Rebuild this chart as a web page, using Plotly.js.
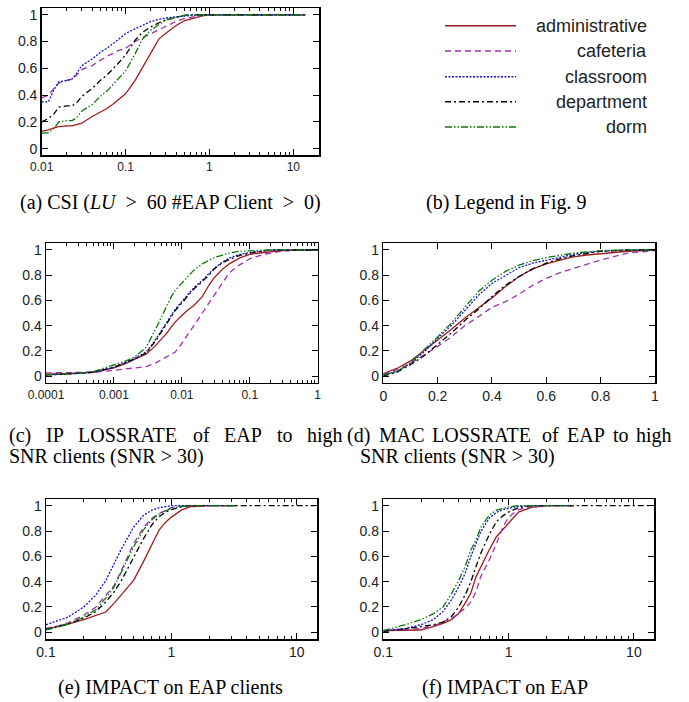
<!DOCTYPE html>
<html><head><meta charset="utf-8">
<script src="https://cdn.plot.ly/plotly-3.0.1.min.js"></script>
<style>html,body{margin:0;padding:0;background:#fff}#chart{width:689px;height:702px}</style>
</head><body><div id="chart"></div>
<script>
// ---------- DATA ----------
const categories = ['administrative', 'cafeteria', 'classroom', 'department', 'dorm'];

// (a) CSI
const csiX = [0.01, 0.012, 0.014, 0.016, 0.02, 0.023, 0.026, 0.03, 0.04, 0.05, 0.06, 0.07, 0.08, 0.1, 0.13, 0.16, 0.2, 0.25, 0.3, 0.4, 0.5, 0.6, 0.8, 1, 2, 5, 14];
const csiAdministrative = [0.13, 0.14, 0.155, 0.165, 0.17, 0.17, 0.18, 0.19, 0.24, 0.27, 0.30, 0.33, 0.36, 0.41, 0.51, 0.61, 0.71, 0.82, 0.86, 0.92, 0.955, 0.97, 0.99, 1, 1, 1, 1];
const csiCafeteria      = [0.38, 0.40, 0.45, 0.49, 0.51, 0.52, 0.55, 0.59, 0.62, 0.66, 0.69, 0.71, 0.73, 0.75, 0.80, 0.83, 0.86, 0.89, 0.915, 0.95, 0.97, 0.98, 0.995, 1, 1, 1, 1];
const csiClassroom      = [0.35, 0.35, 0.44, 0.50, 0.51, 0.52, 0.56, 0.62, 0.67, 0.72, 0.75, 0.78, 0.81, 0.86, 0.895, 0.92, 0.95, 0.965, 0.975, 0.985, 0.99, 0.995, 1, 1, 1, 1, 1];
const csiDepartment     = [0.20, 0.225, 0.26, 0.31, 0.32, 0.32, 0.34, 0.39, 0.45, 0.51, 0.55, 0.59, 0.63, 0.70, 0.81, 0.87, 0.91, 0.94, 0.96, 0.98, 0.995, 1, 1, 1, 1, 1, 1];
const csiDorm           = [0.115, 0.12, 0.15, 0.20, 0.21, 0.21, 0.23, 0.28, 0.33, 0.39, 0.43, 0.475, 0.52, 0.58, 0.71, 0.82, 0.885, 0.93, 0.96, 0.98, 0.995, 1, 1, 1, 1, 1, 1];

// (c) IP LOSSRATE
const ipX = [0.0001, 0.0002, 0.0005, 0.001, 0.0015, 0.002, 0.003, 0.004, 0.005, 0.006, 0.007, 0.008, 0.01, 0.012, 0.015, 0.02, 0.025, 0.03, 0.04, 0.05, 0.07, 0.1, 0.15, 0.2, 0.3, 0.5, 1];
const ipAdministrative = [0.015, 0.018, 0.03, 0.065, 0.10, 0.13, 0.175, 0.235, 0.29, 0.34, 0.39, 0.43, 0.48, 0.52, 0.56, 0.63, 0.72, 0.78, 0.85, 0.89, 0.935, 0.965, 0.978, 0.985, 0.995, 1, 1];
const ipCafeteria      = [0.025, 0.027, 0.03, 0.045, 0.055, 0.06, 0.075, 0.10, 0.13, 0.15, 0.17, 0.19, 0.26, 0.32, 0.40, 0.50, 0.58, 0.64, 0.75, 0.82, 0.88, 0.93, 0.96, 0.975, 0.99, 1, 1];
const ipClassroom      = [0.01, 0.015, 0.03, 0.07, 0.11, 0.14, 0.19, 0.28, 0.36, 0.43, 0.48, 0.53, 0.59, 0.64, 0.70, 0.76, 0.81, 0.855, 0.905, 0.935, 0.965, 0.98, 0.99, 1, 1, 1, 1];
const ipDepartment     = [0.01, 0.015, 0.03, 0.07, 0.105, 0.135, 0.185, 0.27, 0.35, 0.42, 0.47, 0.52, 0.58, 0.63, 0.69, 0.75, 0.80, 0.85, 0.90, 0.925, 0.955, 0.975, 0.99, 1, 1, 1, 1];
const ipDorm           = [0.01, 0.015, 0.035, 0.085, 0.12, 0.15, 0.23, 0.36, 0.47, 0.56, 0.63, 0.68, 0.735, 0.78, 0.84, 0.89, 0.92, 0.94, 0.96, 0.975, 0.99, 0.995, 1, 1, 1, 1, 1];

// (d) MAC LOSSRATE
const macX = [0, 0.05, 0.1, 0.15, 0.2, 0.25, 0.3, 0.35, 0.4, 0.45, 0.5, 0.55, 0.6, 0.65, 0.7, 0.75, 0.8, 0.9, 1];
const macAdministrative = [0.02, 0.06, 0.12, 0.20, 0.285, 0.37, 0.46, 0.54, 0.62, 0.71, 0.79, 0.85, 0.89, 0.92, 0.945, 0.96, 0.97, 0.99, 1];
const macCafeteria      = [0.015, 0.05, 0.10, 0.165, 0.235, 0.31, 0.40, 0.47, 0.545, 0.59, 0.65, 0.72, 0.775, 0.82, 0.855, 0.89, 0.92, 0.975, 0.995];
const macClassroom      = [0.01, 0.035, 0.10, 0.19, 0.30, 0.40, 0.52, 0.64, 0.735, 0.80, 0.86, 0.895, 0.92, 0.945, 0.965, 0.98, 0.99, 1, 1];
const macDepartment     = [0.0, 0.03, 0.09, 0.16, 0.25, 0.34, 0.44, 0.53, 0.63, 0.72, 0.79, 0.85, 0.895, 0.93, 0.955, 0.975, 0.99, 1, 1];
const macDorm           = [0.01, 0.035, 0.105, 0.205, 0.31, 0.42, 0.545, 0.67, 0.76, 0.83, 0.88, 0.915, 0.94, 0.96, 0.975, 0.985, 0.995, 1, 1];

// (e) IMPACT on EAP clients
const impClientX = [0.1, 0.125, 0.15, 0.2, 0.25, 0.3, 0.35, 0.4, 0.45, 0.5, 0.6, 0.7, 0.8, 0.9, 1, 1.2, 1.4, 2, 3.3, 14];
const impClientAdministrative = [0.025, 0.045, 0.065, 0.10, 0.13, 0.16, 0.23, 0.295, 0.35, 0.41, 0.56, 0.69, 0.81, 0.87, 0.91, 0.965, 0.99, 1, 1, null];
const impClientCafeteria      = [0.03, 0.05, 0.075, 0.135, 0.20, 0.295, 0.37, 0.49, 0.60, 0.70, 0.83, 0.90, 0.94, 0.965, 0.985, 0.995, 1, 1, 1, null];
const impClientClassroom      = [0.06, 0.09, 0.12, 0.20, 0.295, 0.41, 0.545, 0.66, 0.75, 0.83, 0.925, 0.965, 0.985, 0.995, 1, 1, 1, 1, 1, null];
const impClientDepartment     = [0.025, 0.045, 0.065, 0.11, 0.165, 0.24, 0.32, 0.41, 0.505, 0.60, 0.74, 0.85, 0.915, 0.95, 0.97, 0.99, 1, 1, 1, 1];
const impClientDorm           = [0.02, 0.04, 0.065, 0.12, 0.18, 0.27, 0.36, 0.48, 0.585, 0.675, 0.81, 0.89, 0.935, 0.96, 0.98, 0.995, 1, 1, 1, null];

// (f) IMPACT on EAP
const impEapX = [0.1, 0.15, 0.2, 0.25, 0.3, 0.35, 0.4, 0.45, 0.5, 0.55, 0.6, 0.7, 0.8, 0.9, 1, 1.2, 1.5, 2, 3.3, 14];
const impEapAdministrative = [0.013, 0.015, 0.018, 0.045, 0.07, 0.10, 0.15, 0.23, 0.31, 0.44, 0.52, 0.65, 0.755, 0.81, 0.86, 0.95, 0.985, 1, 1, null];
const impEapCafeteria      = [0.013, 0.02, 0.03, 0.05, 0.08, 0.11, 0.15, 0.19, 0.24, 0.32, 0.44, 0.57, 0.70, 0.83, 0.91, 0.97, 0.99, 1, 1, null];
const impEapClassroom      = [0.013, 0.03, 0.06, 0.10, 0.165, 0.255, 0.36, 0.465, 0.60, 0.70, 0.795, 0.90, 0.947, 0.97, 0.98, 0.995, 1, 1, 1, null];
const impEapDepartment     = [0.005, 0.025, 0.045, 0.06, 0.08, 0.125, 0.20, 0.295, 0.40, 0.52, 0.625, 0.77, 0.875, 0.92, 0.95, 0.985, 1, 1, 1, 1];
const impEapDorm           = [0.013, 0.06, 0.10, 0.145, 0.20, 0.305, 0.41, 0.52, 0.65, 0.73, 0.83, 0.925, 0.965, 0.98, 0.99, 1, 1, 1, 1, null];

const yTickVals = [0, 0.2, 0.4, 0.6, 0.8, 1];
const yTickText = ['0', '0.2', '0.4', '0.6', '0.8', '1'];

// ---------- STYLE ----------
const colors = ['#a01e1e', '#a030b0', '#1414c8', '#000000', '#0a780a'];
const dashes = ['solid', '6px,4px', '2px,1.5px', '6px,3px,2px,3px', '7px,2px,1.5px,2px,1.5px,2px'];

const panels = [
  {x: csiX, ys: [csiAdministrative, csiCafeteria, csiClassroom, csiDepartment, csiDorm], xa: 'x', ya: 'y'},
  {x: ipX, ys: [ipAdministrative, ipCafeteria, ipClassroom, ipDepartment, ipDorm], xa: 'x2', ya: 'y2'},
  {x: macX, ys: [macAdministrative, macCafeteria, macClassroom, macDepartment, macDorm], xa: 'x3', ya: 'y3'},
  {x: impClientX, ys: [impClientAdministrative, impClientCafeteria, impClientClassroom, impClientDepartment, impClientDorm], xa: 'x4', ya: 'y4'},
  {x: impEapX, ys: [impEapAdministrative, impEapCafeteria, impEapClassroom, impEapDepartment, impEapDorm], xa: 'x5', ya: 'y5'}
];

const traces = [];
panels.forEach(p => {
  categories.forEach((c, i) => {
    traces.push({
      type: 'scatter', mode: 'lines', name: c, x: p.x, y: p.ys[i],
      xaxis: p.xa, yaxis: p.ya, showlegend: false, connectgaps: false,
      line: {color: colors[i], width: 1.3, dash: dashes[i]},
      hoverinfo: 'skip'
    });
  });
});

const tickFont = {family: 'Liberation Sans, Arial, sans-serif', size: 14, color: '#222'};
function minorLog(lo, hi) {
  const v = [];
  for (let d = lo; d < hi; d++) for (let k = 2; k <= 9; k++) v.push(k * Math.pow(10, d));
  return v;
}
function baseAxis(extra) {
  return Object.assign({
    showline: true, linecolor: '#000', linewidth: 1.5, mirror: 'allticks',
    ticks: 'inside', ticklen: 6, tickwidth: 1, tickcolor: '#000',
    showgrid: false, zeroline: false, tickfont: tickFont, fixedrange: true
  }, extra);
}
function logX(domain, anchor, range, vals, texts, lo, hi, fs) {
  return baseAxis({
    type: 'log', domain: domain, anchor: anchor, range: range,
    tickmode: 'array', tickvals: vals, ticktext: texts,
    tickfont: Object.assign({}, tickFont, {size: fs}),
    minor: {tickmode: 'array', tickvals: minorLog(lo, hi), ticks: 'inside', ticklen: 3, tickcolor: '#000', showgrid: false}
  });
}
function yAx(domain, anchor, range) {
  return baseAxis({domain: domain, anchor: anchor, range: range, tickmode: 'array', tickvals: yTickVals, ticktext: yTickText});
}

const W = 689, H = 702;
const px = v => v / W, py = v => 1 - v / H;

const layout = {
  width: W, height: H, margin: {l: 0, r: 0, t: 0, b: 0},
  paper_bgcolor: '#fff', plot_bgcolor: '#fff', showlegend: false,
  xaxis: logX([px(41.7), px(319)], 'y', [-2, 1.306], [0.01, 0.1, 1, 10], ['0.01', '0.1', '1', '10'], -2, 2, 12),
  yaxis: yAx([py(155), py(8.3)], 'x', [-0.047, 1.048]),
  xaxis2: logX([px(46), px(317.7)], 'y2', [-4, 0], [0.0001, 0.001, 0.01, 0.1, 1], ['0.0001', '0.001', '0.01', '0.1', '1'], -4, 0, 12),
  yaxis2: yAx([py(382.7), py(243.3)], 'x2', [-0.053, 1.053]),
  xaxis3: baseAxis({domain: [px(383.3), px(655)], anchor: 'y3', range: [0, 1], tickmode: 'array', tickvals: [0, 0.2, 0.4, 0.6, 0.8, 1], ticktext: ['0', '0.2', '0.4', '0.6', '0.8', '1']}),
  yaxis3: yAx([py(382.7), py(243.3)], 'x3', [-0.053, 1.053]),
  xaxis4: logX([px(46), px(317.3)], 'y4', [-1, 1.164], [0.1, 1, 10], ['0.1', '1', '10'], -1, 2, 14),
  yaxis4: yAx([py(639), py(499)], 'x4', [-0.053, 1.053]),
  xaxis5: logX([px(383.3), px(654.3)], 'y5', [-1, 1.163], [0.1, 1, 10], ['0.1', '1', '10'], -1, 2, 14),
  yaxis5: yAx([py(639), py(499)], 'x5', [-0.053, 1.053]),
  shapes: [], annotations: []
};

// legend panel (b)
const legRows = [25.7, 51, 76.7, 101.7, 127];
categories.forEach((c, i) => {
  layout.shapes.push({type: 'line', xref: 'paper', yref: 'paper', x0: px(445), x1: px(516), y0: py(legRows[i]), y1: py(legRows[i]),
    line: {color: colors[i], width: 1.5, dash: dashes[i]}});
  layout.annotations.push({xref: 'paper', yref: 'paper', x: px(649), y: py(legRows[i]), xanchor: 'right', yanchor: 'middle',
    text: c, showarrow: false, font: {family: 'Liberation Sans, Arial, sans-serif', size: 18, color: '#222'}});
});

// captions
const capFont = {family: 'Liberation Serif, Times New Roman, serif', size: 20, color: '#000'};
function cap(text, x, y, anchor) {
  layout.annotations.push({xref: 'paper', yref: 'paper', x: px(x), y: py(y), xanchor: anchor, yanchor: 'middle',
    text: text, showarrow: false, font: capFont});
}
const nb = '\u00a0';
cap('(a) CSI (<i>LU</i>' + nb + nb + '>' + nb + nb + '60 #EAP Client' + nb + nb + '>' + nb + nb + '0)', 170, 202, 'center');
cap('(b) Legend in Fig. 9', 507, 202, 'center');
const cWords = ['(c)', 'IP', 'LOSSRATE', 'of', 'EAP', 'to', 'high'];
const cWordX = [7, 43.6, 75.8, 191.3, 222.4, 274.6, 304.6];
cWords.forEach((w, i) => cap(w, cWordX[i], 435, 'left'));
cap('SNR clients (SNR' + nb + '>' + nb + '30)', 7, 457, 'left');
const dWords = ['(d)', 'MAC', 'LOSSRATE', 'of', 'EAP', 'to', 'high'];
const dWordX = [345, 376.5, 430.3, 539.6, 564.5, 610.5, 634.3];
dWords.forEach((w, i) => cap(w, dWordX[i], 435, 'left'));
cap('SNR clients (SNR' + nb + '>' + nb + '30)', 358, 457, 'left');
cap('(e) IMPACT on EAP clients', 170, 687, 'center');
cap('(f) IMPACT on EAP', 505, 687, 'center');

Plotly.newPlot('chart', traces, layout, {staticPlot: true, displayModeBar: false});
</script>
</body></html>
